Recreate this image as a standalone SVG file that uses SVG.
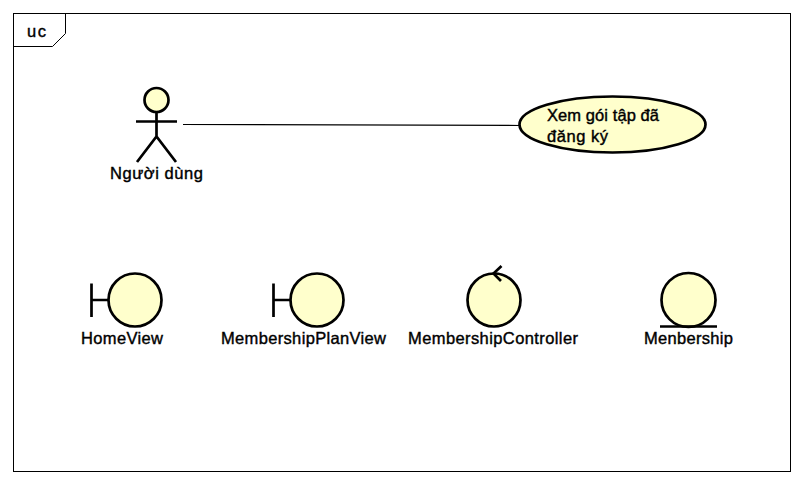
<svg xmlns="http://www.w3.org/2000/svg" width="804" height="485" viewBox="0 0 804 485">
<style>
text{font-family:"Liberation Sans",Arial,sans-serif;font-size:16.500px;fill:#000;stroke:#000;stroke-width:.4px}
.f{fill:#ffffcc;stroke:#000;stroke-width:2.700}
.s{fill:none;stroke:#000;stroke-width:2.700}
</style>
<rect width="804" height="485" fill="#fff"/>
<g id="frame">
<rect x="13.500" y="13.500" width="777" height="458" fill="none" stroke="#000" stroke-width="1"/>
<path d="M13.500 46.500H52.500L65.500 33.500V13.500" fill="none" stroke="#000" stroke-width="1"/>
<text x="27" y="36.500" textLength="19" lengthAdjust="spacing">uc</text>
</g>
<g id="connectors">
<path d="M183 124.500L520 125.500" fill="none" stroke="#000" stroke-width="1.200"/>
</g>
<g id="actor">
<circle class="f" cx="156.500" cy="100" r="12"/>
<path class="s" d="M136 121.500H177M156.500 112V136.500M137 162L156.500 136.500L176 162"/>
<text x="110" y="178.500" textLength="93" lengthAdjust="spacing">Người dùng</text>
</g>
<g id="usecase">
<ellipse class="f" cx="612.500" cy="124.500" rx="93" ry="28"/>
<text x="547" y="121" textLength="112" lengthAdjust="spacing">Xem gói tập đã</text>
<text x="547" y="142" textLength="61" lengthAdjust="spacing">đăng ký</text>
</g>
<g id="homeview">
<path class="s" d="M91.500 283.500V317M91.500 300H108"/>
<circle class="f" cx="135" cy="300" r="26.500"/>
<text x="81" y="343.500" textLength="82" lengthAdjust="spacing">HomeView</text>
</g>
<g id="planview">
<path class="s" d="M273.500 283.500V317M273.500 300H290"/>
<circle class="f" cx="317" cy="300" r="26.500"/>
<text x="221" y="343.500" textLength="165" lengthAdjust="spacing">MembershipPlanView</text>
</g>
<g id="controller">
<circle class="f" cx="494" cy="300" r="26.500"/>
<path class="s" d="M501.500 266L493.500 273.500L501 281"/>
<text x="408" y="343.500" textLength="170" lengthAdjust="spacing">MembershipController</text>
</g>
<g id="entity">
<circle class="f" cx="688.500" cy="300" r="27"/>
<path class="s" d="M660 326.500H717"/>
<text x="644" y="343.500" textLength="89" lengthAdjust="spacing">Menbership</text>
</g>
</svg>
